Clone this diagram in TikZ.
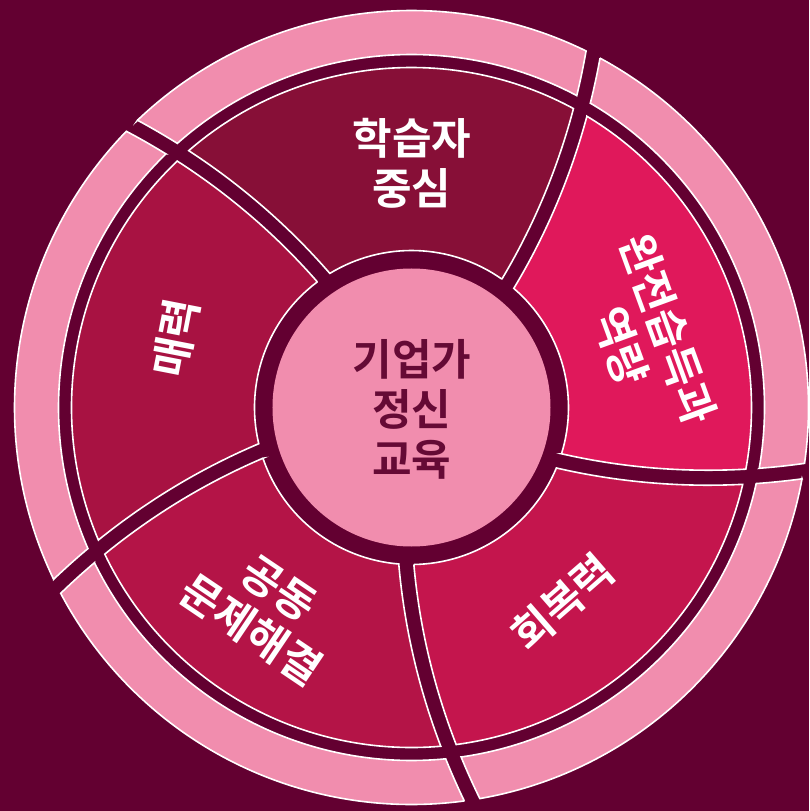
\documentclass[tikz,border=0pt]{standalone}
\usepackage{fontspec}
\newfontfamily\kr{Noto Sans CJK KR}[BoldFont={Noto Sans CJK KR Bold}]
\definecolor{bg}{HTML}{630031}
\definecolor{pinkc}{HTML}{F18DAE}
\definecolor{sA}{HTML}{870F37}
\definecolor{sB}{HTML}{A81242}
\definecolor{sC}{HTML}{B41447}
\definecolor{sD}{HTML}{C4154D}
\definecolor{sE}{HTML}{E0185B}
\definecolor{ctext}{HTML}{650A35}
\tikzset{
  lbl/.style={font=\kr\bfseries\fontsize{43pt}{50pt}\selectfont, text=white, align=center, inner sep=0pt},
  seg/.style={draw=white, line width=1.6pt, line join=miter},
}
\begin{document}
\begin{tikzpicture}[declare function={th(\x)=52.1+0.0445*(\x-157); dl(\x)=7.5/\x*57.29578*sqrt(1+(\x*0.0445/57.29578)^2);}]
\useasboundingbox (-411.5pt,-403.5pt) rectangle (397.5pt,407.5pt);
\fill[bg] (-411.5pt,-403.5pt) rectangle (397.5pt,407.5pt);
% centre disc
\fill[pinkc] (0,0) circle[radius=139pt];
% middle ring segments and outer ring pieces
\foreach \o/\c in {0/sA,72/sB,144/sC,216/sD,288/sE}{
  \pgfmathsetmacro\aA{th(340)+\o+dl(340)}
  \pgfmathsetmacro\aB{th(340)+\o+72-dl(340)}
  \pgfmathsetmacro\bA{th(157)+\o+dl(157)}
  \pgfmathsetmacro\bB{th(157)+\o+72-dl(157)}
  \path[seg, fill=\c]
    plot[variable=\rr, domain=157:340, samples=30] ({th(\rr)+\o+dl(\rr)}:{\rr pt})
    arc[start angle=\aA, end angle=\aB, radius=340pt]
    -- plot[variable=\rr, domain=340:157, samples=30] ({th(\rr)+\o+72-dl(\rr)}:{\rr pt})
    arc[start angle=\bB, end angle=\bA, radius=157pt] -- cycle;
  \pgfmathsetmacro\cA{th(397)+\o+dl(397)}
  \pgfmathsetmacro\cB{th(397)+\o+72-dl(397)}
  \pgfmathsetmacro\dA{th(353)+\o+dl(353)}
  \pgfmathsetmacro\dB{th(353)+\o+72-dl(353)}
  \path[seg, fill=pinkc]
    plot[variable=\rr, domain=353:397, samples=10] ({th(\rr)+\o+dl(\rr)}:{\rr pt})
    arc[start angle=\cA, end angle=\cB, radius=397pt]
    -- plot[variable=\rr, domain=397:353, samples=10] ({th(\rr)+\o+72-dl(\rr)}:{\rr pt})
    arc[start angle=\dB, end angle=\dA, radius=353pt] -- cycle;
}
\node[lbl, text=ctext] (core) at (0.5pt,-1.5pt) {기업가\\정신\\교육};
\node[lbl] (learner) at (0.5pt,244.5pt) {학습자\\중심};
\node[lbl, rotate=-70] (mastery) at (233pt,70pt) {완전습득과\\역량};
\node[lbl, rotate=41] (resil) at (151pt,-194.5pt) {회복력};
\node[lbl, rotate=-34] (collab) at (-146.5pt,-202pt) {공동\\문제해결};
\node[lbl, rotate=79] (charm) at (-235.5pt,69.5pt) {매력};
\end{tikzpicture}
\end{document}
